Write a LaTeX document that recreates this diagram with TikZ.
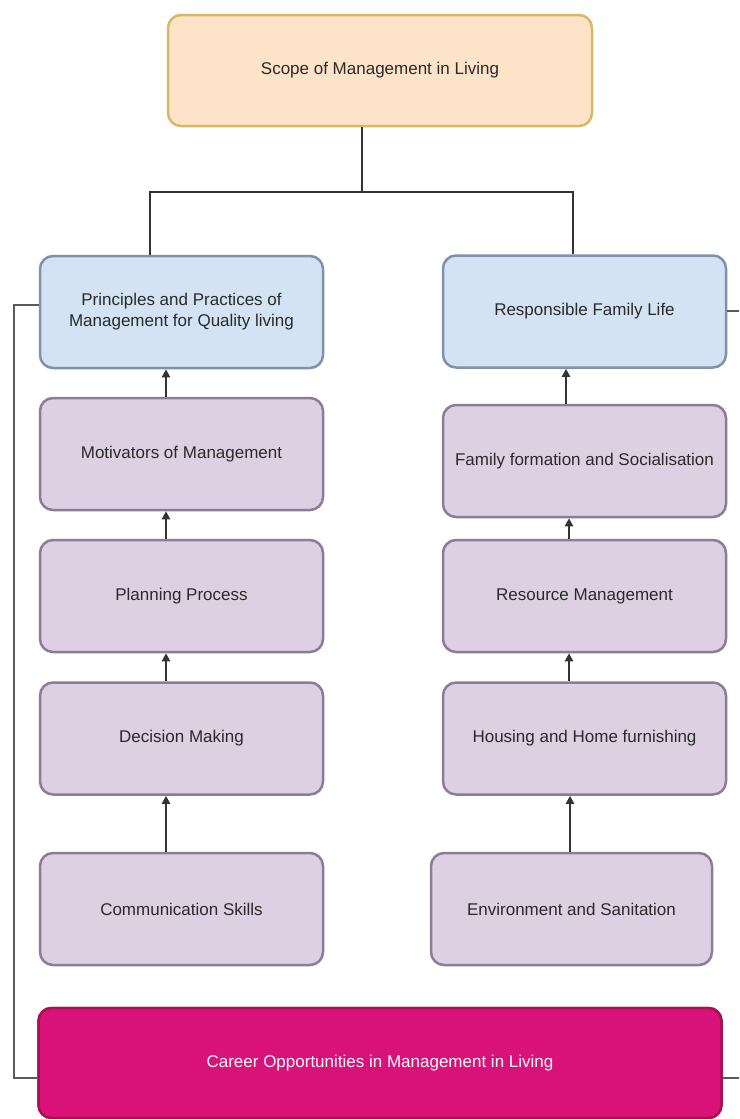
\documentclass[tikz,border=0pt]{standalone}
\usepackage{fontspec}
\setmainfont{Liberation Sans}
\usetikzlibrary{arrows.meta,calc}
\definecolor{peachfill}{HTML}{FDE3C8}
\definecolor{peachdraw}{HTML}{D8B865}
\definecolor{bluefill}{HTML}{D3E3F3}
\definecolor{bluedraw}{HTML}{7E92AC}
\definecolor{purpfill}{HTML}{DDD0E3}
\definecolor{purpdraw}{HTML}{8E7B98}
\definecolor{pinkfill}{HTML}{D9127A}
\definecolor{pinkdraw}{HTML}{A8104F}
\definecolor{txt}{HTML}{2A2A2A}
\definecolor{lnk}{HTML}{333333}
\definecolor{side}{HTML}{5A5A5A}
\tikzset{
  box/.style={rectangle, rounded corners=13pt, line width=2.5pt, align=center,
    font=\fontsize{17}{21}\selectfont, text=txt, inner sep=0pt,
    minimum width=283pt, minimum height=112pt},
  topbox/.style={box, fill=peachfill, draw=peachdraw, minimum width=424pt, minimum height=111pt},
  bluebox/.style={box, fill=bluefill, draw=bluedraw},
  purpbox/.style={box, fill=purpfill, draw=purpdraw},
  careerbox/.style={box, fill=pinkfill, draw=pinkdraw, text=white!92!pink, minimum width=683pt, minimum height=110pt},
  tree/.style={draw=lnk, line width=2.5pt},
  uparrow/.style={draw=lnk, line width=2pt, -{Triangle[width=8pt,length=8pt]}},
  sideline/.style={draw=side, line width=1.6pt}
}
\begin{document}
\begin{tikzpicture}[x=1pt,y=-1pt]
\useasboundingbox (0,0) rectangle (739,1119);
\fill[white] (0,0) rectangle (739,1119);
\clip (0,0) rectangle (739,1119);
% nodes
\node[topbox] (top) at (380,70.5) {Scope of Management in Living};
\node[bluebox] (pp) at (181.5,312) {Principles and Practices of\\Management for Quality living};
\node[bluebox] (rf) at (584.5,311.5) {Responsible Family Life};
\node[purpbox] (mot) at (181.5,454) {Motivators of Management};
\node[purpbox] (plan) at (181.5,596) {Planning Process};
\node[purpbox] (dec) at (181.5,738.5) {Decision Making};
\node[purpbox] (com) at (181.5,909) {Communication Skills};
\node[purpbox] (fam) at (584.5,461) {Family formation and Socialisation};
\node[purpbox] (res) at (584.5,596) {Resource Management};
\node[purpbox] (hou) at (584.5,738.5) {Housing and Home furnishing};
\node[purpbox, minimum width=281pt] (env) at (571.5,909) {Environment and Sanitation};
\node[careerbox] (car) at (380,1063) {Career Opportunities in Management in Living};
% tree connector
\coordinate (split) at (362,192);
\draw[tree] (top.south -| split) -- (split);
\draw[tree] (pp.north -| 150,0) -- (150,192) -- (573,192) -- (rf.north -| 573,0);
% arrows left
\draw[uparrow] (mot.north -| 166,0) -- (pp.south -| 166,0);
\draw[uparrow] (plan.north -| 166,0) -- (mot.south -| 166,0);
\draw[uparrow] (dec.north -| 166,0) -- (plan.south -| 166,0);
\draw[uparrow] (com.north -| 166,0) -- (dec.south -| 166,0);
% arrows right
\draw[uparrow] (fam.north -| 566,0) -- (rf.south -| 566,0);
\draw[uparrow] (res.north -| 569,0) -- (fam.south -| 569,0);
\draw[uparrow] (hou.north -| 569,0) -- (res.south -| 569,0);
\draw[uparrow] (env.north -| 570,0) -- (hou.south -| 570,0);
% side lines
\coordinate (lt) at (14,305);
\coordinate (lb) at (14,1078);
\coordinate (rt) at (745,311);
\coordinate (rb) at (745,1078);
\draw[sideline] (pp.west |- lt) -- (lt) -- (lb) -- (car.west |- lb);
\draw[sideline] (rf.east |- rt) -- (rt);
\draw[sideline] (car.east |- rb) -- (rb);
% redraw career box over side line ends
\node[careerbox] at (car) {Career Opportunities in Management in Living};
\end{tikzpicture}
\end{document}
